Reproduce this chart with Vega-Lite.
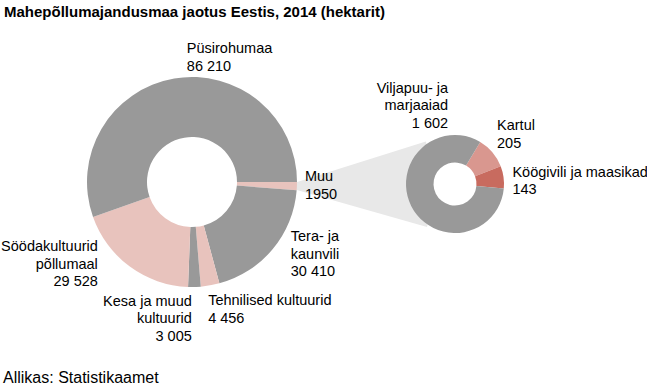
{
  "$schema": "https://vega.github.io/schema/vega-lite/v6.json",
  "width": 647,
  "height": 359,
  "autosize": {"type": "none"},
  "padding": {"left": 0, "top": 30, "right": 0, "bottom": 0},
  "background": "white",
  "title": {
    "text": "Mahepõllumajandusmaa jaotus Eestis, 2014 (hektarit)",
    "anchor": "start",
    "frame": "group",
    "font": "Liberation Sans",
    "fontSize": 15,
    "fontWeight": "bold",
    "color": "#000000",
    "offset": 10,
    "dx": 4
  },
  "config": {"view": {"stroke": null}},
  "datasets": {
    "suur": [
      {"osa": "Muu", "jrk": 1, "value": 1950, "silt": "Muu\n1950"},
      {"osa": "Tera- ja kaunvili", "jrk": 2, "value": 30410, "silt": "Tera- ja\nkaunvili\n30 410"},
      {"osa": "Tehnilised kultuurid", "jrk": 3, "value": 4456, "silt": "Tehnilised kultuurid\n4 456"},
      {"osa": "Kesa ja muud kultuurid", "jrk": 4, "value": 3005, "silt": "Kesa ja muud\nkultuurid\n3 005"},
      {"osa": "Söödakultuurid põllumaal", "jrk": 5, "value": 29528, "silt": "Söödakultuurid\npõllumaal\n29 528"},
      {"osa": "Püsirohumaa", "jrk": 6, "value": 86210, "silt": "Püsirohumaa\n86 210"}
    ],
    "vaike": [
      {"osa": "Kartul", "jrk": 1, "value": 205, "silt": "Kartul\n205"},
      {"osa": "Köögivili ja maasikad", "jrk": 2, "value": 143, "silt": "Köögivili ja maasikad\n143"},
      {"osa": "Viljapuu- ja marjaaiad", "jrk": 3, "value": 1602, "silt": "Viljapuu- ja\nmarjaaiad\n1 602"}
    ],
    "allikas": [
      {"tekst": "Allikas: Statistikaamet"}
    ],
    "seos": [
      {"osa": "Muu"}
    ]
  },
  "resolve": {"scale": {"theta": "independent", "color": "independent"}},
  "layer": [
    {
      "data": {"name": "seos"},
      "mark": {"type": "arc", "theta": 1.2654, "theta2": 1.8483, "innerRadius": 0, "outerRadius": 149, "fill": "#e8e8e8"},
      "encoding": {
        "x": {"datum": 283.7, "type": "quantitative", "scale": {"domain": [0, 647], "nice": false, "zero": false}, "axis": null},
        "y": {"datum": 186.2, "type": "quantitative", "scale": {"domain": [30, 389], "reverse": true, "nice": false, "zero": false}, "axis": null}
      }
    },
    {
      "data": {"name": "suur"},
      "encoding": {
        "x": {"datum": 192, "type": "quantitative", "scale": {"domain": [0, 647], "nice": false, "zero": false}, "axis": null},
        "y": {"datum": 182, "type": "quantitative", "scale": {"domain": [30, 389], "reverse": true, "nice": false, "zero": false}, "axis": null},
        "theta": {"field": "value", "type": "quantitative", "stack": true, "scale": {"range": [1.5708, 7.854]}},
        "order": {"field": "jrk", "type": "quantitative"}
      },
      "layer": [
        {
          "mark": {"type": "arc", "innerRadius": 45, "outerRadius": 105},
          "encoding": {
            "color": {
              "field": "osa", "type": "nominal", "legend": null,
              "scale": {
                "domain": ["Muu", "Tera- ja kaunvili", "Tehnilised kultuurid", "Kesa ja muud kultuurid", "Söödakultuurid põllumaal", "Püsirohumaa"],
                "range": ["#e8c3bd", "#999999", "#e8c3bd", "#999999", "#e8c3bd", "#999999"]
              }
            }
          }
        },
        {
          "mark": {"type": "text", "radius": 125, "dx": 16, "dy": -9.75, "align": "left", "baseline": "middle", "font": "Liberation Sans", "fontSize": 14.5, "lineHeight": 17.5, "lineBreak": "\n", "color": "#000000"},
          "encoding": {"text": {"condition": {"test": "datum.jrk === 6", "field": "silt", "type": "nominal"}, "value": ""}}
        },
        {
          "mark": {"type": "text", "radius": 113, "dx": 0, "dy": -9, "align": "left", "baseline": "middle", "font": "Liberation Sans", "fontSize": 14.5, "lineHeight": 17.5, "lineBreak": "\n", "color": "#000000"},
          "encoding": {"text": {"condition": {"test": "datum.jrk === 1", "field": "silt", "type": "nominal"}, "value": ""}}
        },
        {
          "mark": {"type": "text", "radius": 118, "dx": 8, "dy": -20, "align": "left", "baseline": "middle", "font": "Liberation Sans", "fontSize": 14.5, "lineHeight": 17.5, "lineBreak": "\n", "color": "#000000"},
          "encoding": {"text": {"condition": {"test": "datum.jrk === 2", "field": "silt", "type": "nominal"}, "value": ""}}
        },
        {
          "mark": {"type": "text", "radius": 128, "dx": -6, "dy": -7, "align": "left", "baseline": "middle", "font": "Liberation Sans", "fontSize": 14.5, "lineHeight": 17.5, "lineBreak": "\n", "color": "#000000"},
          "encoding": {"text": {"condition": {"test": "datum.jrk === 3", "field": "silt", "type": "nominal"}, "value": ""}}
        },
        {
          "mark": {"type": "text", "radius": 120, "dx": -3, "dy": 0, "align": "right", "baseline": "middle", "font": "Liberation Sans", "fontSize": 14.5, "lineHeight": 17.5, "lineBreak": "\n", "color": "#000000"},
          "encoding": {"text": {"condition": {"test": "datum.jrk === 4", "field": "silt", "type": "nominal"}, "value": ""}}
        },
        {
          "mark": {"type": "text", "radius": 110, "dx": -29, "dy": -23.6, "align": "right", "baseline": "middle", "font": "Liberation Sans", "fontSize": 14.5, "lineHeight": 17.5, "lineBreak": "\n", "color": "#000000"},
          "encoding": {"text": {"condition": {"test": "datum.jrk === 5", "field": "silt", "type": "nominal"}, "value": ""}}
        }
      ]
    },
    {
      "data": {"name": "vaike"},
      "encoding": {
        "x": {"datum": 455, "type": "quantitative", "scale": {"domain": [0, 647], "nice": false, "zero": false}, "axis": null},
        "y": {"datum": 184, "type": "quantitative", "scale": {"domain": [30, 389], "reverse": true, "nice": false, "zero": false}, "axis": null},
        "theta": {"field": "value", "type": "quantitative", "stack": true, "scale": {"range": [0.5411, 6.8243]}},
        "order": {"field": "jrk", "type": "quantitative"}
      },
      "layer": [
        {
          "mark": {"type": "arc", "innerRadius": 21.5, "outerRadius": 49},
          "encoding": {
            "color": {
              "field": "osa", "type": "nominal", "legend": null,
              "scale": {
                "domain": ["Kartul", "Köögivili ja maasikad", "Viljapuu- ja marjaaiad"],
                "range": ["#d9978f", "#c86b5f", "#999999"]
              }
            }
          }
        },
        {
          "mark": {"type": "text", "radius": 20, "dx": 11, "dy": -104.5, "align": "right", "baseline": "middle", "font": "Liberation Sans", "fontSize": 14.5, "lineHeight": 17.5, "lineBreak": "\n", "color": "#000000"},
          "encoding": {"text": {"condition": {"test": "datum.jrk === 3", "field": "silt", "type": "nominal"}, "value": ""}}
        },
        {
          "mark": {"type": "text", "radius": 62, "dx": -5.4, "dy": -18, "align": "left", "baseline": "middle", "font": "Liberation Sans", "fontSize": 14.5, "lineHeight": 17.5, "lineBreak": "\n", "color": "#000000"},
          "encoding": {"text": {"condition": {"test": "datum.jrk === 1", "field": "silt", "type": "nominal"}, "value": ""}}
        },
        {
          "mark": {"type": "text", "radius": 58, "dx": 0, "dy": -3, "align": "left", "baseline": "middle", "font": "Liberation Sans", "fontSize": 14.5, "lineHeight": 17.5, "lineBreak": "\n", "color": "#000000"},
          "encoding": {"text": {"condition": {"test": "datum.jrk === 2", "field": "silt", "type": "nominal"}, "value": ""}}
        }
      ]
    },
    {
      "data": {"name": "allikas"},
      "mark": {"type": "text", "align": "left", "baseline": "middle", "font": "Liberation Sans", "fontSize": 16, "color": "#000000"},
      "encoding": {
        "x": {"datum": 3, "type": "quantitative", "scale": {"domain": [0, 647], "nice": false, "zero": false}, "axis": null},
        "y": {"datum": 378, "type": "quantitative", "scale": {"domain": [30, 389], "reverse": true, "nice": false, "zero": false}, "axis": null},
        "text": {"field": "tekst", "type": "nominal"}
      }
    }
  ]
}
